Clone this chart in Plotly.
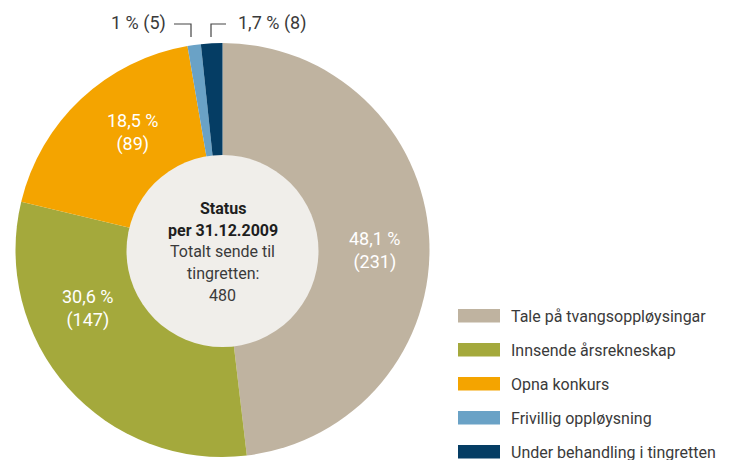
import plotly.graph_objects as go

# ---- data ----
categories = ["Tale på tvangsoppløysingar", "Innsende årsrekneskap", "Opna konkurs",
              "Frivillig oppløysning", "Under behandling i tingretten"]
counts = [231, 147, 89, 5, 8]
pct_labels = ["48,1 %", "30,6 %", "18,5 %", "1 %", "1,7 %"]
colors = ["#bfb3a0", "#a4a93c", "#f4a400", "#6aa2c6", "#053d64"]
center_lines = ["<b>Status</b>", "<b>per 31.12.2009</b>", "Totalt sende til", "tingretten:", str(sum(counts))]

W, H = 731, 460
FONT = "Roboto"
TXT = "#3a3a3a"

def px(x):
    return x / W

def py(y):
    return 1 - y / H

fig = go.Figure()
fig.add_trace(go.Pie(
    labels=categories, values=counts, sort=False, direction="clockwise", rotation=0,
    marker=dict(colors=colors, line=dict(width=0)),
    textinfo="none", hoverinfo="label+value+percent", showlegend=False,
    domain=dict(x=[px(15), px(430)], y=[py(457), py(43)]),
))

shapes = []
annotations = []

# centre disc
cx, cy, cr = 222.5, 251, 96
shapes.append(dict(type="circle", xref="paper", yref="paper",
                   x0=px(cx - cr), x1=px(cx + cr), y0=py(cy + cr), y1=py(cy - cr),
                   fillcolor="#f0eeea", line=dict(width=0), layer="above"))
for i, line in enumerate(center_lines):
    annotations.append(dict(xref="paper", yref="paper", x=px(cx), y=py(209 + 21.5 * i),
                            text=line, showarrow=False, xanchor="center", yanchor="middle",
                            font=dict(family=FONT, size=16, color="#1e1e1e" if i < 2 else TXT)))

# slice labels (inside, white)
inside_pos = [(375, 251), (88, 308), (133, 132)]
for i, (x, y) in enumerate(inside_pos):
    annotations.append(dict(xref="paper", yref="paper", x=px(x), y=py(y),
                            text=f"{pct_labels[i]}<br>({counts[i]})", showarrow=False,
                            xanchor="center", yanchor="middle",
                            font=dict(family=FONT, size=18, color="white")))

# small slices: outside labels with bracket leader lines
annotations.append(dict(xref="paper", yref="paper", x=px(168), y=py(23),
                        text=f"{pct_labels[3]} ({counts[3]})", showarrow=False,
                        xanchor="right", yanchor="middle",
                        font=dict(family=FONT, size=18, color=TXT)))
annotations.append(dict(xref="paper", yref="paper", x=px(236), y=py(23),
                        text=f"{pct_labels[4]} ({counts[4]})", showarrow=False,
                        xanchor="left", yanchor="middle",
                        font=dict(family=FONT, size=18, color=TXT)))
lc = dict(color="#444", width=1.2)
shapes.append(dict(type="path", xref="paper", yref="paper",
                   path=f"M {px(174)},{py(24)} L {px(191)},{py(24)} L {px(191)},{py(37)}", line=lc))
shapes.append(dict(type="path", xref="paper", yref="paper",
                   path=f"M {px(226)},{py(24)} L {px(211)},{py(24)} L {px(211)},{py(37)}", line=lc))

# custom legend
for i, name in enumerate(categories):
    y0 = 309 + 34 * i
    shapes.append(dict(type="rect", xref="paper", yref="paper",
                       x0=px(458), x1=px(500), y0=py(y0 + 13.5), y1=py(y0),
                       fillcolor=colors[i], line=dict(width=0)))
    annotations.append(dict(xref="paper", yref="paper", x=px(509), y=py(y0 + 7),
                            text=name, showarrow=False, xanchor="left", yanchor="middle",
                            font=dict(family=FONT, size=16, color=TXT)))

fig.update_layout(
    width=W, height=H, margin=dict(l=0, r=0, t=0, b=0),
    paper_bgcolor="white", plot_bgcolor="white",
    shapes=shapes, annotations=annotations,
    font=dict(family=FONT),
)
fig.write_html("out.html", config={"displayModeBar": False},
               post_script="document.body.style.margin='0';document.body.style.overflow='hidden';")
